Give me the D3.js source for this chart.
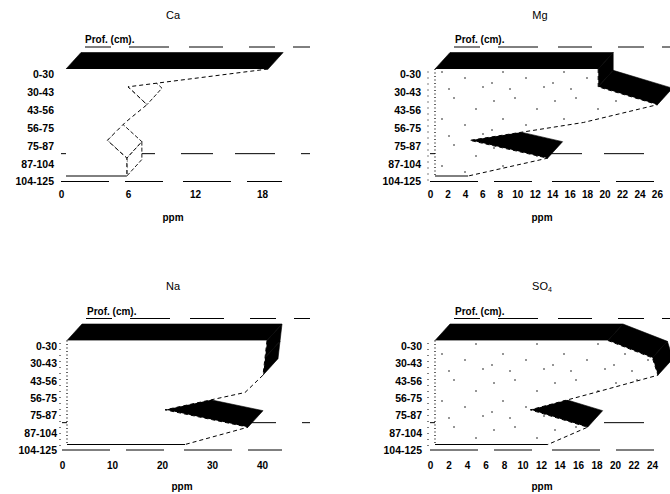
<!DOCTYPE html>
<html>
<head>
<meta charset="utf-8">
<script src="https://cdn.jsdelivr.net/npm/d3@7"></script>
<style>
  body { margin: 0; background: #fff; }
  svg { display: block; }
  text { font-family: "Liberation Sans", Arial, sans-serif; fill: #000; }
</style>
</head>
<body>
<svg id="chart" width="670" height="494"></svg>
<script>
// depth classes of the soil profile
const depths = ["0-30", "30-43", "43-56", "56-75", "75-87", "87-104", "104-125"];

// ppm per depth
const caValues = [18.1, 5.55, 7.25, 5.3, 3.7, 5.45, 5.45];
const mgValues = [18.7, 18.7, 25.5, 17, 4.0, 12.9, 3.8];
const naValues = [40, 39.6, 39.2, 35.6, 19.6, 36.2, 23.6];
const so4Values = [18.7, 23.5, 24.1, 17.3, 10.3, 16.5, 12.2];

const caTicks = [0, 6, 12, 18];
const mgTicks = [0, 2, 4, 6, 8, 10, 12, 14, 16, 18, 20, 22, 24, 26];
const naTicks = [0, 10, 20, 30, 40];
const so4Ticks = [0, 2, 4, 6, 8, 10, 12, 14, 16, 18, 20, 22, 24];

// element name and its subscript
const titles = [["Ca", ""], ["Mg", ""], ["Na", ""], ["SO", "4"]];

// layout of the four small charts
const panels = [
  { title: titles[0], values: caValues, ticks: caTicks, max: 22, xr: [61, 306.7], rows: [74.5, 181.5],
    labelX: 54, titleX: 173, titleY: 15, profX: 85, tickY: 191, ppmX: 173, ppmY: 217,
    faces: "outline", dots: false, leftEdge: false, right: 310 },
  { title: titles[1], values: mgValues, ticks: mgTicks, max: 27.5, xr: [430, 670], rows: [74.5, 181.5],
    labelX: 421, titleX: 540, titleY: 15, profX: 455, tickY: 191, ppmX: 542, ppmY: 217,
    faces: "black", dots: true, leftEdge: true, right: 670 },
  { title: titles[2], values: naValues, ticks: naTicks, max: 46, xr: [62, 292], rows: [346, 450],
    labelX: 57, titleX: 173, titleY: 286, profX: 87, tickY: 462, ppmX: 182, ppmY: 486,
    faces: "black", dots: false, leftEdge: true, right: 310 },
  { title: titles[3], values: so4Values, ticks: so4Ticks, max: 26, xr: [430, 670.5], rows: [346, 450],
    labelX: 422, titleX: 542, titleY: 286, profX: 455, tickY: 462, ppmX: 542, ppmY: 486,
    faces: "black", dots: true, leftEdge: true, right: 670 }
];

const svg = d3.select("#chart");

// sparse stipple used on the front face of Mg and SO4
const pat = svg.append("defs").append("pattern")
  .attr("id", "stipple")
  .attr("patternUnits", "userSpaceOnUse")
  .attr("width", 61).attr("height", 47);
pat.append("rect").attr("width", 61).attr("height", 47).attr("fill", "#fff");
[[6, 7], [27, 4], [49, 15], [15, 25], [38, 31], [56, 40], [22, 42], [4, 36]].forEach(([cx, cy]) =>
  pat.append("circle").attr("cx", cx).attr("cy", cy).attr("r", 0.8).attr("fill", "#111"));

const depth = [15, -16.5]; // extrusion of the 3D ribbon
const gap = [5, -5.5];     // series sits a little behind the axis plane

panels.forEach((p) => {
  const g = svg.append("g");
  const x = d3.scaleLinear().domain([0, p.max]).range(p.xr);
  const y = d3.scalePoint().domain(depths).range(p.rows);

  // back grid lines, broken like the scan
  const y0 = y(depths[0]);
  const yLast = y(depths[depths.length - 1]);
  g.append("line")
    .attr("x1", x(0) + 24).attr("x2", p.right)
    .attr("y1", y0 - 27.5).attr("y2", y0 - 27.5)
    .attr("stroke", "#000").attr("stroke-width", 1)
    .attr("stroke-dasharray", "26,18,40,20,34,26");
  g.append("line")
    .attr("x1", x(0)).attr("x2", p.right)
    .attr("y1", y(depths[5]) - 10).attr("y2", y(depths[5]) - 10)
    .attr("stroke", "#000").attr("stroke-width", 1)
    .attr("stroke-dasharray", "32,22,40,26");
  g.append("line")
    .attr("x1", x(0)).attr("x2", x(p.ticks[p.ticks.length - 1]) + 20)
    .attr("y1", yLast).attr("y2", yLast)
    .attr("stroke", "#000").attr("stroke-width", 1)
    .attr("stroke-dasharray", "48,16,38,20");

  // front face outline of the area
  const fx = (v) => x(v) + gap[0];
  const fy = (d) => y(d) + gap[1];
  const pts = [[fx(0), fy(depths[0])]]
    .concat(p.values.map((v, i) => [fx(v), fy(depths[i])]))
    .concat([[fx(0), fy(depths[depths.length - 1])]]);

  // side faces that turn towards the viewer
  for (let i = 0; i < pts.length; i++) {
    const a = pts[i];
    const b = pts[(i + 1) % pts.length];
    const dx = b[0] - a[0], dy = b[1] - a[1];
    if (dy * depth[0] - dx * depth[1] <= 0) continue;
    const quad = [a, b, [b[0] + depth[0], b[1] + depth[1]], [a[0] + depth[0], a[1] + depth[1]]];
    const black = i === 0 || p.faces === "black";
    g.append("path")
      .attr("d", "M" + quad.join("L") + "Z")
      .attr("fill", black ? "#000" : "#fff")
      .attr("stroke", "#000")
      .attr("stroke-width", black ? 0.6 : 0.9)
      .attr("stroke-dasharray", black ? null : "4,2");
  }

  g.append("path")
    .attr("d", "M" + pts.join("L") + "Z")
    .attr("fill", p.dots ? "url(#stipple)" : "#fff")
    .attr("stroke", "none");

  // profile edge dashed, left edge dotted, bottom solid
  g.append("path")
    .attr("d", d3.line()(pts.slice(1, pts.length - 1)))
    .attr("fill", "none").attr("stroke", "#000").attr("stroke-width", 1)
    .attr("stroke-dasharray", "4,3");
  if (p.leftEdge) {
    g.append("line")
      .attr("x1", fx(0)).attr("x2", fx(0))
      .attr("y1", pts[0][1]).attr("y2", pts[pts.length - 1][1])
      .attr("stroke", "#000").attr("stroke-width", 1.2)
      .attr("stroke-dasharray", "1,2.5");
    g.append("line")
      .attr("x1", x(0) - 2).attr("x2", x(0) - 2)
      .attr("y1", y0 - 3).attr("y2", yLast)
      .attr("stroke", "#000").attr("stroke-width", 1)
      .attr("stroke-dasharray", "1,5");
  }
  g.append("line")
    .attr("x1", fx(0)).attr("x2", pts[pts.length - 2][0])
    .attr("y1", pts[pts.length - 1][1]).attr("y2", pts[pts.length - 1][1])
    .attr("stroke", "#000").attr("stroke-width", 1);

  // y axis: depth labels
  const yAxis = g.append("g")
    .attr("transform", `translate(${p.labelX},0)`)
    .call(d3.axisLeft(y).tickSize(0).tickPadding(0));
  yAxis.select(".domain").remove();
  yAxis.selectAll("text")
    .attr("font-family", "Liberation Sans, Arial, sans-serif")
    .attr("font-size", 10.5).attr("font-weight", "bold")
    .attr("text-anchor", "end");

  // x axis: ppm ticks
  const xAxis = g.append("g")
    .attr("transform", `translate(0,${p.tickY})`)
    .call(d3.axisBottom(x).tickValues(p.ticks).tickSize(0).tickPadding(0));
  xAxis.select(".domain").remove();
  xAxis.selectAll("text")
    .attr("font-family", "Liberation Sans, Arial, sans-serif")
    .attr("font-size", 10).attr("font-weight", "bold");

  // titles
  const t = g.append("text")
    .attr("x", p.titleX).attr("y", p.titleY)
    .attr("dy", "0.35em")
    .attr("text-anchor", "middle")
    .attr("font-size", 11);
  t.append("tspan").text(p.title[0]);
  if (p.title[1]) {
    t.append("tspan")
      .attr("font-size", 7)
      .attr("dy", 2)
      .text(p.title[1]);
  }
  g.append("text")
    .attr("x", p.profX).attr("y", y0 - 35)
    .attr("dy", "0.35em")
    .attr("font-size", 10).attr("font-weight", "bold")
    .text("Prof. (cm).");
  g.append("text")
    .attr("x", p.ppmX).attr("y", p.ppmY)
    .attr("dy", "0.35em")
    .attr("text-anchor", "middle")
    .attr("font-size", 10).attr("font-weight", "bold")
    .text("ppm");
});
</script>
</body>
</html>
